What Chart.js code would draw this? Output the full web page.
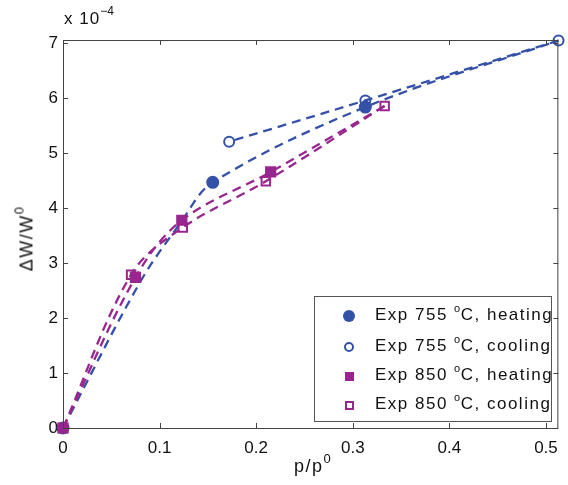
<!DOCTYPE html>
<html lang="en">
<head>
  <meta charset="UTF-8" />
  <title>Weight change vs pressure</title>
  <script src="https://cdn.jsdelivr.net/npm/chart.js"></script>
  <style>
    body { margin: 0; background: #fff; font-family: 'Liberation Sans', Arial, sans-serif; color: #111; }
    #wrap { position: relative; width: 568px; height: 485px; }
    .lbl { position: absolute; font-size: 18px; white-space: nowrap; letter-spacing: 1.5px; }
    .lbl sup { font-size: 13px; vertical-align: 0; position: relative; top: -9px; }
    #legend { position: absolute; left: 314px; top: 296px; width: 238px; height: 126px; border: 1px solid #555; background: #fff; box-sizing: border-box; }
    .row { position: absolute; left: 0; height: 20px; font-size: 17px; letter-spacing: 1.5px; }
    .row span.txt { position: absolute; left: 60px; top: -1px; white-space: nowrap; }
    .row sup { font-size: 11px; position: relative; top: -8px; vertical-align: 0; letter-spacing: 0.5px; }
    .mk { position: absolute; box-sizing: border-box; }
  </style>
</head>
<body>
<div id="wrap">
  <canvas id="chart" width="568" height="485"></canvas>
  <div class="lbl" style="left:64px; top:9px; font-size:17px; letter-spacing:1px;">x 10<sup style="font-size:12px; top:-9px; letter-spacing:0;">&minus;4</sup></div>
  <div class="lbl" style="left:-13px; top:228px; width:80px; text-align:center; transform: rotate(-90deg);">&Delta;W/W<sup>0</sup></div>
  <div class="lbl" style="left:294px; top:456px;">p/p<sup>0</sup></div>
  <div id="legend">
    <div class="row" style="top:9px;"><div class="mk" style="left:28px; top:4px; width:12px; height:12px; border-radius:50%; background:#3451a8;"></div><span class="txt">Exp 755 <sup>o</sup>C, heating</span></div>
    <div class="row" style="top:40px;"><div class="mk" style="left:29px; top:5px; width:10px; height:10px; border-radius:50%; border:2px solid #3451a8;"></div><span class="txt">Exp 755 <sup>o</sup>C, cooling</span></div>
    <div class="row" style="top:69px;"><div class="mk" style="left:30px; top:6px; width:9px; height:9px; background:#98268f;"></div><span class="txt">Exp 850 <sup>o</sup>C, heating</span></div>
    <div class="row" style="top:98px;"><div class="mk" style="left:30px; top:6px; width:9px; height:9px; border:2px solid #98268f;"></div><span class="txt">Exp 850 <sup>o</sup>C, cooling</span></div>
  </div>
</div>
<script>
  // p/p0 and dW/W0 (x 1e-4)
  const heat755X = [0, 0.08, 0.122, 0.155, 0.313, 0.513];
  const heat755Y = [0, 2.66, 3.74, 4.47, 5.84, 7.05];
  const cool755X = [0.513, 0.313, 0.172];
  const cool755Y = [7.05, 5.96, 5.21];
  const heat850X = [0, 0.075, 0.123, 0.215, 0.333];
  const heat850Y = [0, 2.74, 3.78, 4.66, 5.86];
  const cool850X = [0.333, 0.21, 0.124, 0.0705, 0];
  const cool850Y = [5.86, 4.49, 3.65, 2.79, 0];

  const xTicks = [0, 0.1, 0.2, 0.3, 0.4, 0.5];
  const yTicks = [0, 1, 2, 3, 4, 5, 6, 7];

  const blue = '#3451a8', purple = '#98268f';
  const pts = (xs, ys) => xs.map((x, i) => ({ x: x, y: ys[i] }));

  const frame = {
    id: 'frame',
    afterDraw(chart) {
      const { ctx, chartArea: a, scales } = chart;
      ctx.save();
      ctx.strokeStyle = '#444';
      ctx.lineWidth = 1;
      ctx.strokeRect(a.left + 0.5, a.top + 0.5, a.right - a.left - 1, a.bottom - a.top);
      ctx.beginPath();
      xTicks.forEach(v => {
        const px = Math.round(scales.x.getPixelForValue(v)) + 0.5;
        ctx.moveTo(px, a.bottom); ctx.lineTo(px, a.bottom - 5);
        ctx.moveTo(px, a.top); ctx.lineTo(px, a.top + 5);
      });
      yTicks.forEach(v => {
        const py = Math.round(scales.y.getPixelForValue(v)) + 0.5;
        ctx.moveTo(a.left, py); ctx.lineTo(a.left + 5, py);
        ctx.moveTo(a.right, py); ctx.lineTo(a.right - 5, py);
      });
      ctx.stroke();
      ctx.restore();
    }
  };

  const line = (data, color, style, radius, filled) => ({
    data: data,
    clip: false,
    borderColor: color,
    borderWidth: 2.3,
    borderDash: [9, 6],
    tension: 0.35,
    pointStyle: style,
    pointRadius: radius,
    pointBorderWidth: 2,
    pointBorderColor: color,
    pointBackgroundColor: filled ? color : 'rgba(0,0,0,0)'
  });

  new Chart(document.getElementById('chart'), {
    type: 'line',
    data: {
      datasets: [
        line(pts(cool850X, cool850Y), purple, 'rect', 6, false),
        line(pts(heat850X, heat850Y), purple, 'rect', [6.5, 6.5, 6.5, 6.5, 0], true),
        line(pts(cool755X, cool755Y), blue, 'circle', 5, false),
        // markers under the squares and under the last open circle are not seen
        line(pts(heat755X, heat755Y), blue, 'circle', [5.5, 0, 0, 5.5, 5.5, 0], true)
      ]
    },
    options: {
      responsive: false,
      animation: false,
      events: [],
      layout: { padding: { left: 0, right: 5, top: 40, bottom: 0 } },
      plugins: { legend: { display: false }, tooltip: { enabled: false } },
      scales: {
        x: {
          type: 'linear', min: 0, max: 0.5128,
          grid: { display: false, drawTicks: false },
          border: { display: false },
          afterFit: s => { s.height = 57; },
          afterBuildTicks: s => { s.ticks = xTicks.map(v => ({ value: v })); },
          ticks: { color: '#111', padding: 10, font: { family: "'Liberation Sans', Arial, sans-serif", size: 17 }, maxRotation: 0,
                   callback: v => String(+v.toFixed(1)) }
        },
        y: {
          type: 'linear', min: 0, max: 7.06,
          grid: { display: false, drawTicks: false },
          border: { display: false },
          afterFit: s => { s.width = 63; },
          afterBuildTicks: s => { s.ticks = yTicks.map(v => ({ value: v })); },
          ticks: { color: '#111', padding: 5, font: { family: "'Liberation Sans', Arial, sans-serif", size: 17 },
                   callback: v => String(v) }
        }
      }
    },
    plugins: [frame]
  });
</script>
</body>
</html>
